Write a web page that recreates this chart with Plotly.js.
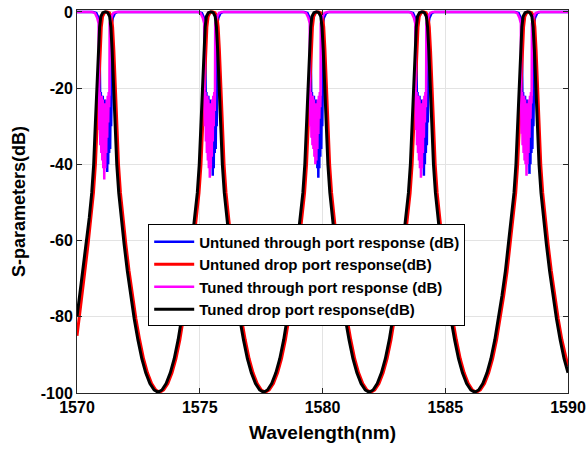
<!DOCTYPE html>
<html>
<head>
<meta charset="utf-8">
<script src="https://cdn.plot.ly/plotly-3.0.1.min.js"></script>
<style>html,body{margin:0;padding:0;background:#fff;}#chart{width:588px;height:452px;}</style>
</head>
<body>
<div id="chart"></div>
<script>
// ---- Data ----
var xTickVals = [1570, 1575, 1580, 1585, 1590];
var yTickVals = [-100, -80, -60, -40, -20, 0];

// Tuned drop port response (dB)
var tunedDropX = [1570.00,1570.11,1570.25,1570.38,1570.50,1570.60,1570.68,1570.75,1570.82,1570.87,1570.92,1570.97,1571.05,1571.15,
1571.25,1571.33,1571.38,1571.43,1571.48,1571.55,1571.62,1571.70,1571.80,1571.92,1572.05,1572.19,1572.33,1572.48,1572.64,1572.80,1572.97,1573.14,1573.30,
1573.46,1573.63,1573.80,1573.96,1574.12,1574.27,1574.41,1574.55,1574.68,1574.80,1574.90,1574.98,1575.05,1575.12,1575.17,1575.22,1575.27,1575.35,1575.45,
1575.55,1575.63,1575.68,1575.73,1575.78,1575.85,1575.92,1576.00,1576.10,1576.22,1576.35,1576.49,1576.63,1576.78,1576.94,1577.10,1577.27,1577.44,1577.60,
1577.76,1577.93,1578.10,1578.26,1578.42,1578.57,1578.71,1578.85,1578.98,1579.10,1579.20,1579.28,1579.35,1579.42,1579.47,1579.52,1579.57,1579.65,1579.75,
1579.85,1579.93,1579.98,1580.03,1580.08,1580.15,1580.22,1580.30,1580.40,1580.52,1580.65,1580.79,1580.93,1581.08,1581.24,1581.40,1581.57,1581.74,1581.90,
1582.06,1582.23,1582.40,1582.56,1582.72,1582.87,1583.01,1583.15,1583.28,1583.40,1583.50,1583.58,1583.65,1583.72,1583.77,1583.82,1583.87,1583.95,1584.05,
1584.15,1584.23,1584.28,1584.33,1584.38,1584.45,1584.52,1584.60,1584.70,1584.82,1584.95,1585.09,1585.23,1585.38,1585.54,1585.70,1585.87,1586.04,1586.20,
1586.36,1586.53,1586.70,1586.86,1587.02,1587.17,1587.31,1587.45,1587.58,1587.70,1587.80,1587.88,1587.95,1588.02,1588.07,1588.12,1588.17,1588.25,1588.35,
1588.45,1588.53,1588.58,1588.63,1588.68,1588.75,1588.82,1588.90,1589.00,1589.12,1589.25,1589.39,1589.53,1589.68,1589.84,1590.00];
var tunedDropY = [-80,-74.5,-68,-61,-54,-47.5,-40,-29,-18,-10,-4,-1.2,-0.2,0,
-0.2,-1.2,-4,-10,-18,-29,-40,-47.5,-54,-61,-68,-74.5,-80.5,-86,-91,-94.7,-97.5,-99.2,-99.8,
-99.2,-97.5,-94.7,-91,-86,-80.5,-74.5,-68,-61,-54,-47.5,-40,-29,-18,-10,-4,-1.2,-0.2,0,
-0.2,-1.2,-4,-10,-18,-29,-40,-47.5,-54,-61,-68,-74.5,-80.5,-86,-91,-94.7,-97.5,-99.2,-99.8,
-99.2,-97.5,-94.7,-91,-86,-80.5,-74.5,-68,-61,-54,-47.5,-40,-29,-18,-10,-4,-1.2,-0.2,0,
-0.2,-1.2,-4,-10,-18,-29,-40,-47.5,-54,-61,-68,-74.5,-80.5,-86,-91,-94.7,-97.5,-99.2,-99.8,
-99.2,-97.5,-94.7,-91,-86,-80.5,-74.5,-68,-61,-54,-47.5,-40,-29,-18,-10,-4,-1.2,-0.2,0,
-0.2,-1.2,-4,-10,-18,-29,-40,-47.5,-54,-61,-68,-74.5,-80.5,-86,-91,-94.7,-97.5,-99.2,-99.8,
-99.2,-97.5,-94.7,-91,-86,-80.5,-74.5,-68,-61,-54,-47.5,-40,-29,-18,-10,-4,-1.2,-0.2,0,
-0.2,-1.2,-4,-10,-18,-29,-40,-47.5,-54,-61,-68,-74.5,-80.5,-86,-91,-94.7];

// Untuned drop port response (dB)
var untunedDropX = [1570.00,1570.18,1570.32,1570.45,1570.57,1570.67,1570.75,1570.82,1570.89,1570.94,1570.99,1571.04,1571.12,1571.22,
1571.32,1571.40,1571.45,1571.50,1571.55,1571.62,1571.69,1571.77,1571.87,1571.99,1572.12,1572.26,1572.40,1572.55,1572.71,1572.87,1573.04,1573.21,1573.37,
1573.53,1573.70,1573.87,1574.03,1574.19,1574.34,1574.48,1574.62,1574.75,1574.87,1574.97,1575.05,1575.12,1575.19,1575.24,1575.29,1575.34,1575.42,1575.52,
1575.62,1575.70,1575.75,1575.80,1575.85,1575.92,1575.99,1576.07,1576.17,1576.29,1576.42,1576.56,1576.70,1576.85,1577.01,1577.17,1577.34,1577.51,1577.67,
1577.83,1578.00,1578.17,1578.33,1578.49,1578.64,1578.78,1578.92,1579.05,1579.17,1579.27,1579.35,1579.42,1579.49,1579.54,1579.59,1579.64,1579.72,1579.82,
1579.92,1580.00,1580.05,1580.10,1580.15,1580.22,1580.29,1580.37,1580.47,1580.59,1580.72,1580.86,1581.00,1581.15,1581.31,1581.47,1581.64,1581.81,1581.97,
1582.13,1582.30,1582.47,1582.63,1582.79,1582.94,1583.08,1583.22,1583.35,1583.47,1583.57,1583.65,1583.72,1583.79,1583.84,1583.89,1583.94,1584.02,1584.12,
1584.22,1584.30,1584.35,1584.40,1584.45,1584.52,1584.59,1584.67,1584.77,1584.89,1585.02,1585.16,1585.30,1585.45,1585.61,1585.77,1585.94,1586.11,1586.27,
1586.43,1586.60,1586.77,1586.93,1587.09,1587.24,1587.38,1587.52,1587.65,1587.77,1587.87,1587.95,1588.02,1588.09,1588.14,1588.19,1588.24,1588.32,1588.42,
1588.52,1588.60,1588.65,1588.70,1588.75,1588.82,1588.89,1588.97,1589.07,1589.19,1589.32,1589.46,1589.60,1589.75,1589.91,1590.00];
var untunedDropY = [-85,-74.5,-68,-61,-54,-47.5,-40,-29,-18,-10,-4,-1.2,-0.2,0,
-0.2,-1.2,-4,-10,-18,-29,-40,-47.5,-54,-61,-68,-74.5,-80.5,-86,-91,-94.7,-97.5,-99.2,-99.8,
-99.2,-97.5,-94.7,-91,-86,-80.5,-74.5,-68,-61,-54,-47.5,-40,-29,-18,-10,-4,-1.2,-0.2,0,
-0.2,-1.2,-4,-10,-18,-29,-40,-47.5,-54,-61,-68,-74.5,-80.5,-86,-91,-94.7,-97.5,-99.2,-99.8,
-99.2,-97.5,-94.7,-91,-86,-80.5,-74.5,-68,-61,-54,-47.5,-40,-29,-18,-10,-4,-1.2,-0.2,0,
-0.2,-1.2,-4,-10,-18,-29,-40,-47.5,-54,-61,-68,-74.5,-80.5,-86,-91,-94.7,-97.5,-99.2,-99.8,
-99.2,-97.5,-94.7,-91,-86,-80.5,-74.5,-68,-61,-54,-47.5,-40,-29,-18,-10,-4,-1.2,-0.2,0,
-0.2,-1.2,-4,-10,-18,-29,-40,-47.5,-54,-61,-68,-74.5,-80.5,-86,-91,-94.7,-97.5,-99.2,-99.8,
-99.2,-97.5,-94.7,-91,-86,-80.5,-74.5,-68,-61,-54,-47.5,-40,-29,-18,-10,-4,-1.2,-0.2,0,
-0.2,-1.2,-4,-10,-18,-29,-40,-47.5,-54,-61,-68,-74.5,-80.5,-86,-91,-93];

// Tuned through port response (dB), one array per resonance dip
var tunedThruX1 = [1570.60,1570.73,1570.82,1570.88,1570.89,1570.91,1570.93,1570.95,1570.97,1570.99,1571.01,1571.03,1571.05,1571.07,1571.09,1571.11,1571.13,1571.15,1571.17,1571.19,1571.21,1571.23,1571.25,1571.27,1571.29,1571.31,1571.32,1571.33,1571.39,1571.48,1571.60];
var tunedThruY1 = [0,-0.3,-1.5,-3,-21,-31,-21,-35,-22,-37,-22,-39,-23,-41,-24,-44,-25,-41,-24,-37,-23,-33,-22,-29,-21,-25,-21,-3,-1.5,-0.3,0];
var tunedThruX2 = [1574.90,1575.03,1575.12,1575.18,1575.19,1575.21,1575.23,1575.25,1575.27,1575.29,1575.31,1575.33,1575.35,1575.37,1575.39,1575.41,1575.43,1575.45,1575.47,1575.49,1575.51,1575.53,1575.55,1575.57,1575.59,1575.61,1575.62,1575.63,1575.69,1575.78,1575.90];
var tunedThruY2 = [0,-0.3,-1.5,-3,-21,-30,-21,-34,-22,-37,-22,-39,-23,-41,-24,-43.5,-25,-41,-24,-38,-23,-34,-22,-30,-21,-26,-21,-3,-1.5,-0.3,0];
var tunedThruX3 = [1579.20,1579.33,1579.42,1579.48,1579.49,1579.51,1579.53,1579.55,1579.57,1579.59,1579.61,1579.63,1579.65,1579.67,1579.69,1579.71,1579.73,1579.75,1579.77,1579.79,1579.81,1579.83,1579.85,1579.87,1579.89,1579.91,1579.92,1579.93,1579.99,1580.08,1580.20];
var tunedThruY3 = [0,-0.3,-1.5,-3,-21,-30,-21,-33,-22,-35,-22,-36,-23,-38,-24,-40,-25,-39,-24,-36,-23,-32,-22,-28,-21,-25,-21,-3,-1.5,-0.3,0];
var tunedThruX4 = [1583.50,1583.63,1583.72,1583.78,1583.79,1583.81,1583.83,1583.85,1583.87,1583.89,1583.91,1583.93,1583.95,1583.97,1583.99,1584.01,1584.03,1584.05,1584.07,1584.09,1584.11,1584.13,1584.15,1584.17,1584.19,1584.21,1584.22,1584.23,1584.29,1584.38,1584.50];
var tunedThruY4 = [0,-0.3,-1.5,-3,-21,-31,-21,-35,-22,-37,-22,-39,-23,-41,-24,-43.5,-25,-41,-24,-37,-23,-33,-22,-29,-21,-25,-21,-3,-1.5,-0.3,0];
var tunedThruX5 = [1587.80,1587.93,1588.02,1588.08,1588.09,1588.11,1588.13,1588.15,1588.17,1588.19,1588.21,1588.23,1588.25,1588.27,1588.29,1588.31,1588.33,1588.35,1588.37,1588.39,1588.41,1588.43,1588.45,1588.47,1588.49,1588.51,1588.52,1588.53,1588.59,1588.68,1588.80];
var tunedThruY5 = [0,-0.3,-1.5,-3,-21,-32,-21,-35,-22,-37,-22,-39,-23,-40,-24,-43,-25,-40,-24,-37,-23,-33,-22,-28,-21,-24,-21,-3,-1.5,-0.3,0];

// Untuned through port response (dB), one array per resonance dip
var untunedThruX1 = [1570.65,1570.79,1570.87,1570.91,1570.92,1570.95,1570.97,1570.99,1571.01,1571.03,1571.05,1571.07,1571.09,1571.11,1571.13,1571.15,1571.17,1571.19,1571.21,1571.23,1571.25,1571.27,1571.29,1571.31,1571.33,1571.35,1571.37,1571.39,1571.41,1571.42,1571.46,1571.55,1571.67];
var untunedThruY1 = [0,-0.3,-1.5,-3,-21,-26,-21,-28,-22,-30,-22,-32,-23,-34,-23,-37,-24,-40,-25,-42,-26,-40,-24,-37,-23,-36,-22,-30,-21,-3,-1.5,-0.3,0];
var untunedThruX2 = [1574.95,1575.09,1575.17,1575.21,1575.22,1575.25,1575.27,1575.29,1575.31,1575.33,1575.35,1575.37,1575.39,1575.41,1575.43,1575.45,1575.47,1575.49,1575.51,1575.53,1575.55,1575.57,1575.59,1575.61,1575.63,1575.65,1575.67,1575.69,1575.71,1575.72,1575.76,1575.85,1575.97];
var untunedThruY2 = [0,-0.3,-1.5,-3,-21,-26,-21,-28,-22,-30,-22,-32,-23,-34,-23,-37,-24,-40,-25,-43,-26,-41,-24,-37,-23,-36,-22,-30,-21,-3,-1.5,-0.3,0];
var untunedThruX3 = [1579.25,1579.39,1579.47,1579.51,1579.52,1579.55,1579.57,1579.59,1579.61,1579.63,1579.65,1579.67,1579.69,1579.71,1579.73,1579.75,1579.77,1579.79,1579.81,1579.83,1579.85,1579.87,1579.89,1579.91,1579.93,1579.95,1579.97,1579.99,1580.01,1580.02,1580.06,1580.15,1580.27];
var untunedThruY3 = [0,-0.3,-1.5,-3,-21,-27,-21,-29,-22,-31,-22,-33,-23,-35,-23,-38,-24,-41,-25,-43.5,-26,-41,-24,-38,-23,-36,-22,-30,-21,-3,-1.5,-0.3,0];
var untunedThruX4 = [1583.55,1583.69,1583.77,1583.81,1583.82,1583.85,1583.87,1583.89,1583.91,1583.93,1583.95,1583.97,1583.99,1584.01,1584.03,1584.05,1584.07,1584.09,1584.11,1584.13,1584.15,1584.17,1584.19,1584.21,1584.23,1584.25,1584.27,1584.29,1584.31,1584.32,1584.36,1584.45,1584.57];
var untunedThruY4 = [0,-0.3,-1.5,-3,-21,-26,-21,-28,-22,-30,-22,-32,-23,-34,-23,-37,-24,-40,-25,-43,-26,-40,-24,-37,-23,-35,-22,-29,-21,-3,-1.5,-0.3,0];
var untunedThruX5 = [1587.85,1587.99,1588.07,1588.11,1588.12,1588.15,1588.17,1588.19,1588.21,1588.23,1588.25,1588.27,1588.29,1588.31,1588.33,1588.35,1588.37,1588.39,1588.41,1588.43,1588.45,1588.47,1588.49,1588.51,1588.53,1588.55,1588.57,1588.59,1588.61,1588.62,1588.66,1588.75,1588.87];
var untunedThruY5 = [0,-0.3,-1.5,-3,-21,-26,-21,-28,-22,-30,-22,-32,-23,-34,-23,-37,-24,-40,-25,-42.5,-26,-40,-24,-37,-23,-36,-22,-30,-21,-3,-1.5,-0.3,0];

var seriesNames = [
  'Untuned through port response (dB)',
  'Untuned drop port response(dB)',
  'Tuned through port response (dB)',
  'Tuned drop port response(dB)'
];
var seriesColors = ['#0000ff', '#ff0000', '#ff00ff', '#000000'];

// ---- Build traces ----
var untunedThruX = [1570].concat(untunedThruX1, untunedThruX2, untunedThruX3, untunedThruX4, untunedThruX5, [1590]);
var untunedThruY = [0].concat(untunedThruY1, untunedThruY2, untunedThruY3, untunedThruY4, untunedThruY5, [0]);
var tunedThruX = [1570].concat(tunedThruX1, tunedThruX2, tunedThruX3, tunedThruX4, tunedThruX5, [1590]);
var tunedThruY = [0].concat(tunedThruY1, tunedThruY2, tunedThruY3, tunedThruY4, tunedThruY5, [0]);

var traces = [
  {x: untunedThruX, y: untunedThruY, name: seriesNames[0], type: 'scatter', mode: 'lines', line: {color: seriesColors[0], width: 2.5}},
  {x: untunedDropX, y: untunedDropY, name: seriesNames[1], type: 'scatter', mode: 'lines', line: {color: seriesColors[1], width: 3}},
  {x: tunedThruX, y: tunedThruY, name: seriesNames[2], type: 'scatter', mode: 'lines', line: {color: seriesColors[2], width: 2.5}},
  {x: tunedDropX, y: tunedDropY, name: seriesNames[3], type: 'scatter', mode: 'lines', line: {color: seriesColors[3], width: 3}}
];

var fontFam = '"Liberation Sans", Arial, Helvetica, sans-serif';
var layout = {
  width: 588, height: 452,
  margin: {l: 77, r: 20, t: 10, b: 59, pad: 0},
  paper_bgcolor: '#ffffff', plot_bgcolor: '#ffffff',
  font: {family: fontFam, color: '#000000', weight: 'bold'},
  showlegend: true,
  xaxis: {
    range: [1570, 1590], tickvals: xTickVals, ticktext: xTickVals.map(String),
    showgrid: true, gridcolor: '#e3e3e3', gridwidth: 1, zeroline: false,
    showline: true, linecolor: '#262626', linewidth: 1, mirror: 'ticks',
    ticks: 'inside', ticklen: 5, tickcolor: '#262626',
    tickfont: {family: fontFam, size: 16, color: '#000000', weight: 'bold'},
    title: {text: 'Wavelength(nm)', font: {family: fontFam, size: 19, color: '#000000', weight: 'bold'}, standoff: 10}
  },
  yaxis: {
    range: [-100, 0.5], tickvals: yTickVals, ticktext: yTickVals.map(String),
    showgrid: true, gridcolor: '#e3e3e3', gridwidth: 1, zeroline: false,
    showline: true, linecolor: '#262626', linewidth: 1, mirror: 'ticks',
    ticks: 'inside', ticklen: 5, tickcolor: '#262626',
    tickfont: {family: fontFam, size: 16, color: '#000000', weight: 'bold'},
    title: {text: 'S-parameters(dB)', font: {family: fontFam, size: 18, color: '#000000', weight: 'bold'}, standoff: 10}
  },
  legend: {
    x: 0.145, y: 0.44, xanchor: 'left', yanchor: 'top',
    bgcolor: '#ffffff', bordercolor: '#000000', borderwidth: 1,
    font: {family: fontFam, size: 15, color: '#000000', weight: 'bold'},
    tracegroupgap: 0, itemwidth: 40
  }
};

Plotly.newPlot('chart', traces, layout, {displayModeBar: false, staticPlot: true});
</script>
</body>
</html>
